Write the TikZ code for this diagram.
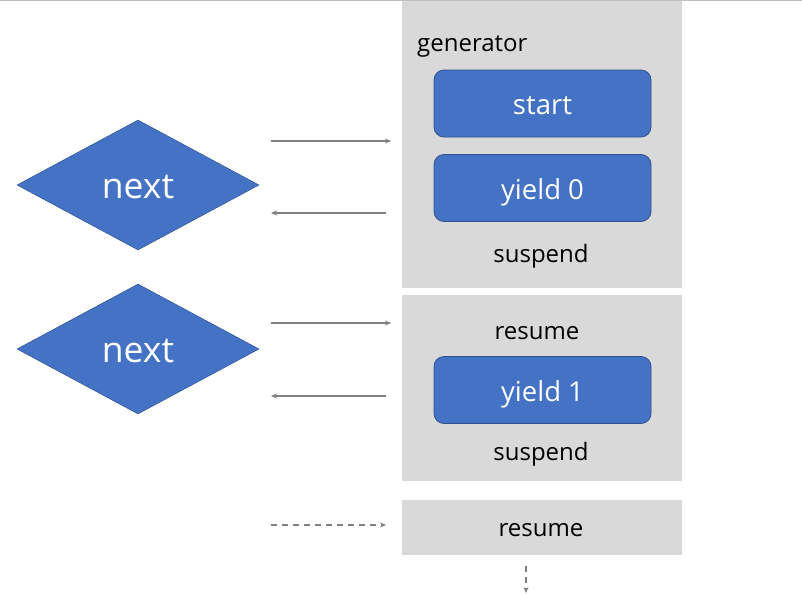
\documentclass[tikz,border=0pt]{standalone}
\usepackage{fontspec}
\setmainfont{Open Sans}
\usetikzlibrary{shapes.geometric,arrows.meta}
\definecolor{boxgray}{HTML}{D9D9D9}
\definecolor{linegray}{HTML}{BFBFBF}
\definecolor{arrgray}{HTML}{7F7F7F}
\definecolor{blue1}{HTML}{4472C4}
\definecolor{blue2}{HTML}{2F528F}
\tikzset{
  panel/.style={fill=boxgray, draw=none, inner sep=0pt, anchor=north west},
  bluebox/.style={fill=blue1, draw=blue2, line width=0.8pt, rounded corners=10pt, minimum width=217pt, minimum height=67pt, text=white, font=\fontsize{27.5}{32}\selectfont, inner sep=0pt, text height=22pt, text depth=0pt},
  dia/.style={diamond, fill=blue1, draw=blue2, line width=0.5pt, minimum width=242pt, minimum height=130pt, aspect=1.86, inner sep=0pt, text=white, font=\fontsize{35.5}{40}\selectfont, text height=26pt, text depth=0pt},
  lbl/.style={font=\fontsize{24}{28}\selectfont, inner sep=0pt, text=black, anchor=base},
  arr/.style={draw=arrgray, line width=1.5pt, -{Stealth[length=6pt,width=5pt]}},
  darr/.style={arr, dash pattern=on 6pt off 5pt}
}
\begin{document}
\begin{tikzpicture}[x=1pt,y=-1pt]
\useasboundingbox (0,0) rectangle (802,594);
\draw[linegray, line width=1.5pt] (0,0.75) -- (802,0.75);
% panels
\node[panel, minimum width=280pt, minimum height=287pt] (p1) at (402,1) {};
\node[panel, minimum width=280pt, minimum height=186pt] (p2) at (402,295) {};
\node[panel, minimum width=280pt, minimum height=55pt] (p3) at (402,500) {};
% labels
\node[lbl, anchor=base west] (gen) at (417,51.5) {generator};
\node[bluebox] (start) at (542.5,103.5) {start};
\node[bluebox] (y0) at (542.5,188) {yield 0};
\node[lbl] (s1) at (541,262) {suspend};
\node[lbl] (r1) at (537,339) {resume};
\node[bluebox] (y1) at (542.5,390) {yield 1};
\node[lbl] (s2) at (541,460) {suspend};
\node[lbl] (r2) at (541,536.5) {resume};
% diamonds
\node[dia] (n1) at (138,185) {next};
\node[dia] (n2) at (138,349) {next};
% arrow endpoints
\coordinate (a1s) at (271,141); \coordinate (a1e) at (391,141);
\coordinate (b1s) at (386,213); \coordinate (b1e) at (271,213);
\coordinate (a2s) at (271,323); \coordinate (a2e) at (391,323);
\coordinate (b2s) at (386,396); \coordinate (b2e) at (271,396);
\coordinate (a3s) at (271,525); \coordinate (a3e) at (386,525);
\coordinate (v3s) at (526,566); \coordinate (v3e) at (526,593);
\draw[arr] (a1s) -- (a1e);
\draw[arr] (b1s) -- (b1e);
\draw[arr] (a2s) -- (a2e);
\draw[arr] (b2s) -- (b2e);
\draw[darr] (a3s) -- (a3e);
\draw[darr] (v3s) -- (v3e);
\end{tikzpicture}
\end{document}
